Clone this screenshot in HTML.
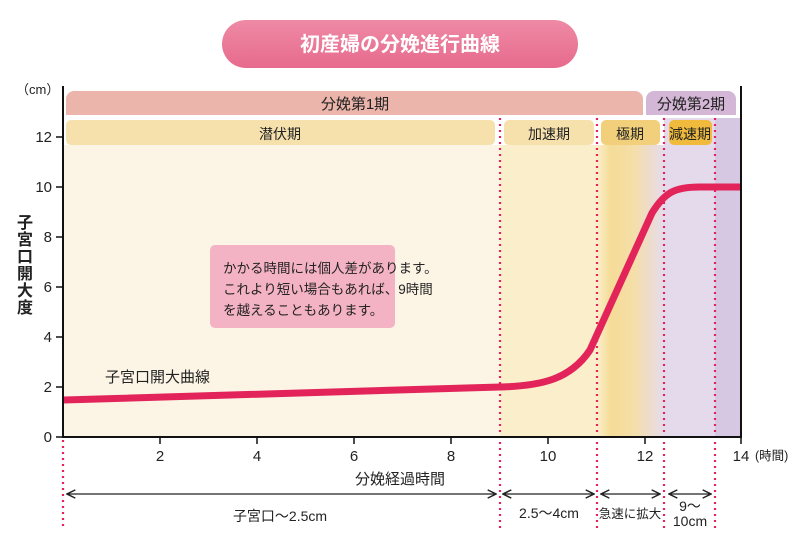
<!DOCTYPE html>
<html><head><meta charset="utf-8"><style>
body{margin:0;background:#fff}
svg{display:block;font-family:"Liberation Sans","Noto Sans CJK JP",sans-serif}
</style></head><body>
<svg width="800" height="540" viewBox="0 0 800 540" xmlns="http://www.w3.org/2000/svg">
<defs>
<linearGradient id="g1" x1="0" x2="1" y1="0" y2="0">
<stop offset="0" stop-color="#fbeecb"/><stop offset="0.2" stop-color="#f5dc97"/><stop offset="0.55" stop-color="#f5dea8"/><stop offset="1" stop-color="#e6dbeb"/></linearGradient>
<linearGradient id="gt" x1="0" x2="0" y1="0" y2="1">
<stop offset="0" stop-color="#ee8aa5"/><stop offset="1" stop-color="#e76a8d"/></linearGradient>
<marker id="ar" viewBox="0 0 10 10" refX="9" refY="5" markerWidth="8" markerHeight="8" orient="auto-start-reverse"><path d="M1 1 L9 5 L1 9" fill="none" stroke="#222" stroke-width="1.4"/></marker>
</defs>
<rect x="222" y="20" width="356" height="48" rx="24" fill="url(#gt)"/>
<text x="400" y="51" text-anchor="middle" font-size="20" fill="#fff" font-weight="bold">初産婦の分娩進行曲線</text>
<text x="16" y="94" font-size="13" fill="#222">（cm）</text>
<rect x="64" y="145" width="436" height="292" fill="#fcf5e6"/>
<rect x="500" y="145" width="97" height="292" fill="#fbeecb"/>
<rect x="597" y="145" width="67" height="292" fill="url(#g1)"/>
<rect x="664" y="118" width="51" height="319" fill="#e4daec"/>
<rect x="715" y="118" width="26" height="319" fill="#d6c7e2"/>
<path d="M66 115 V99 a8 8 0 0 1 8 -8 H635 a8 8 0 0 1 8 8 V115 Z" fill="#ebb5ab"/>
<text x="355" y="109" text-anchor="middle" font-size="15" fill="#222">分娩第1期</text>
<path d="M646 115 V99 a8 8 0 0 1 8 -8 H728 a8 8 0 0 1 8 8 V115 Z" fill="#d4b6d6"/>
<text x="691" y="109" text-anchor="middle" font-size="15" fill="#222">分娩第2期</text>
<rect x="66" y="120" width="429" height="25" rx="5" fill="#f6e1ad"/>
<text x="280" y="139" text-anchor="middle" font-size="14" fill="#222">潜伏期</text>
<rect x="504" y="120" width="90" height="25" rx="5" fill="#f6e1ad"/>
<text x="549" y="139" text-anchor="middle" font-size="14" fill="#222">加速期</text>
<rect x="601" y="120" width="59" height="25" rx="5" fill="#f2cf7a"/>
<text x="630" y="139" text-anchor="middle" font-size="14" fill="#222">極期</text>
<rect x="669" y="120" width="43" height="25" rx="5" fill="#f0bb3c"/>
<text x="690" y="139" text-anchor="middle" font-size="14" fill="#222">減速期</text>
<g stroke="#e2245a" stroke-width="2.2" stroke-dasharray="2 4">
<line x1="63" y1="440" x2="63" y2="530"/>
<line x1="500" y1="118" x2="500" y2="530"/>
<line x1="597" y1="118" x2="597" y2="530"/>
<line x1="664" y1="118" x2="664" y2="530"/>
<line x1="715" y1="118" x2="715" y2="530"/>
</g>
<rect x="210" y="245" width="185" height="83" rx="5" fill="#f4b3c4"/>
<text font-size="13.5" fill="#222"><tspan x="223" y="273">かかる時間には個人差があります。</tspan><tspan x="223" y="294">これより短い場合もあれば、9時間</tspan><tspan x="223" y="315">を越えることもあります。</tspan></text>
<text x="105" y="382" font-size="15" fill="#222">子宮口開大曲線</text>
<path d="M64 400 L500 387 C540 386 570 380 590 350 L652 213 C665 192 675 187 700 187 L741 187" fill="none" stroke="#e2245a" stroke-width="7" stroke-linejoin="round"/>
<g stroke="#111" stroke-width="2" fill="none">
<line x1="63" y1="86" x2="63" y2="438"/>
<line x1="62" y1="437" x2="742" y2="437"/>
<line x1="741" y1="86" x2="741" y2="438"/>
</g>
<g stroke="#111" stroke-width="1.5">
<line x1="56" y1="437" x2="63" y2="437"/><line x1="56" y1="387" x2="63" y2="387"/><line x1="56" y1="337" x2="63" y2="337"/><line x1="56" y1="287" x2="63" y2="287"/><line x1="56" y1="237" x2="63" y2="237"/><line x1="56" y1="187" x2="63" y2="187"/><line x1="56" y1="137" x2="63" y2="137"/>
<line x1="160" y1="437" x2="160" y2="444"/><line x1="257" y1="437" x2="257" y2="444"/><line x1="354" y1="437" x2="354" y2="444"/><line x1="451" y1="437" x2="451" y2="444"/><line x1="548" y1="437" x2="548" y2="444"/><line x1="645" y1="437" x2="645" y2="444"/><line x1="741" y1="437" x2="741" y2="444"/>
</g>
<g font-size="15" fill="#222" text-anchor="end">
<text x="52" y="442">0</text><text x="52" y="392">2</text><text x="52" y="342">4</text><text x="52" y="292">6</text><text x="52" y="242">8</text><text x="52" y="192">10</text><text x="52" y="142">12</text>
</g>
<g font-size="15" fill="#222" text-anchor="middle">
<text x="160" y="461">2</text><text x="257" y="461">4</text><text x="354" y="461">6</text><text x="451" y="461">8</text><text x="548" y="461">10</text><text x="645" y="461">12</text><text x="741" y="461">14</text>
</g>
<text x="755" y="460" font-size="12.5" fill="#222">(時間)</text>
<text x="400" y="484" text-anchor="middle" font-size="15" fill="#222">分娩経過時間</text>
<g font-size="16" fill="#222" text-anchor="middle" font-weight="bold">
<text x="25" y="228">子</text><text x="25" y="245">宮</text><text x="25" y="262">口</text><text x="25" y="279">開</text><text x="25" y="296">大</text><text x="25" y="313">度</text>
</g>
<g stroke="#222" stroke-width="1.3" marker-start="url(#ar)" marker-end="url(#ar)">
<line x1="67" y1="494" x2="496" y2="494"/>
<line x1="503" y1="494" x2="594" y2="494"/>
<line x1="601" y1="494" x2="660" y2="494"/>
<line x1="669" y1="494" x2="711" y2="494"/>
</g>
<g font-size="14" fill="#222" text-anchor="middle">
<text x="280" y="521">子宮口〜2.5cm</text>
<text x="549" y="518">2.5〜4cm</text>
<text x="630" y="518" font-size="12.5">急速に拡大</text>
<text x="690" y="511">9〜</text><text x="690" y="526">10cm</text>
</g>
</svg>
</body></html>
